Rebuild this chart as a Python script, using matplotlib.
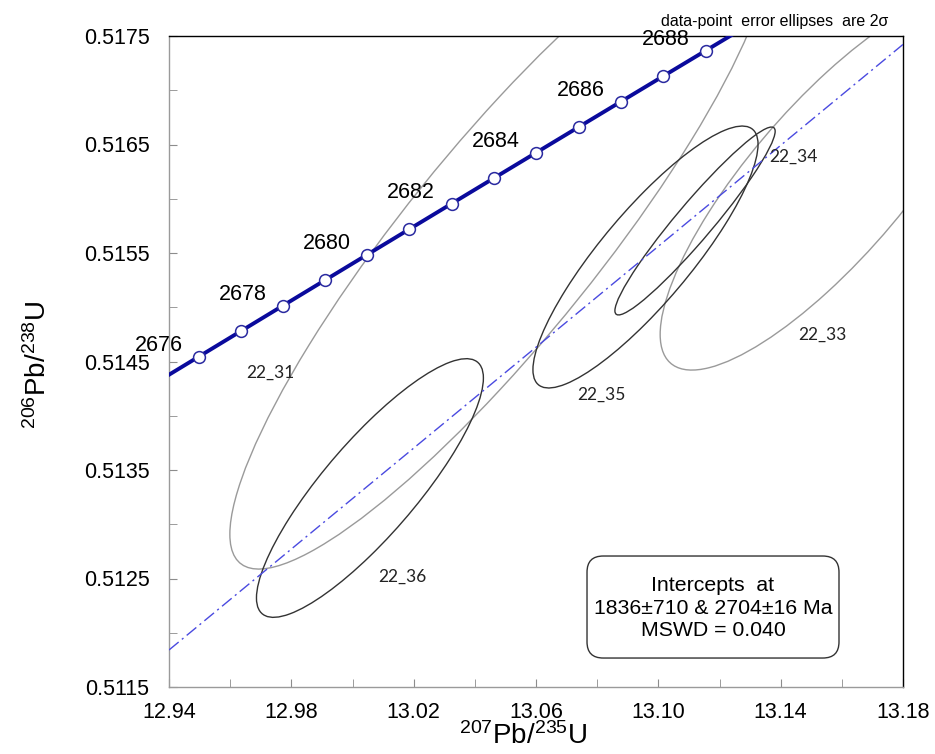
import numpy as np
import matplotlib
matplotlib.use('Agg')
import matplotlib.pyplot as plt
from matplotlib.patches import Ellipse, FancyBboxPatch

plt.rcParams['font.family'] = ['Liberation Sans', 'DejaVu Sans']
plt.rcParams['mathtext.default'] = 'regular'

# decay constants (1/yr)
L238 = 1.55125e-10
L235 = 9.8485e-10

# concordia age marks (Ma)
line_ages = [2675, 2676, 2677, 2678, 2679, 2680, 2681, 2682, 2683, 2684,
             2685, 2686, 2687, 2688, 2689]
mark_ages = [2676, 2677, 2678, 2679, 2680, 2681, 2682, 2683, 2684, 2685,
             2686, 2687, 2688]
label_ages = [2676, 2678, 2680, 2682, 2684, 2686, 2688]

# discordia intercepts (Ma)
intercepts = [1836, 2704]

# spot analyses: 207Pb/235U, 2s, 206Pb/238U, 2s, rho
spots = ['22_31', '22_33', '22_34', '22_35', '22_36']
pb207_u235 = [13.0482, 13.1552, 13.1120, 13.0958, 13.0057]
err_207 = [0.0883, 0.0546, 0.0262, 0.0368, 0.0371]
pb206_u238 = [0.515592, 0.516154, 0.515795, 0.515463, 0.513334]
err_206 = [0.003005, 0.001733, 0.000866, 0.001207, 0.001192]
rho = [0.893, 0.81, 0.955, 0.86, 0.85]
spot_color = ['#9a9a9a', '#9a9a9a', '#333333', '#333333', '#333333']
label_x = [12.973, 13.1535, 13.1441, 13.0813, 13.0162]
label_y = [0.514394, 0.514744, 0.516385, 0.514191, 0.512514]

xticks = [12.94, 12.98, 13.02, 13.06, 13.10, 13.14, 13.18]
xminor = [12.96, 13.00, 13.04, 13.08, 13.12, 13.16]
yticks = [0.5115, 0.5125, 0.5135, 0.5145, 0.5155, 0.5165, 0.5175]
yminor = [0.5120, 0.5130, 0.5140, 0.5150, 0.5160, 0.5170]


def concordia(age_ma):
    t = np.asarray(age_ma, dtype=float) * 1e6
    return np.exp(L235 * t) - 1, np.exp(L238 * t) - 1


fig = plt.figure(figsize=(9.35, 7.54), dpi=100)
ax = fig.add_axes([169 / 935, 67 / 754, 734 / 935, 651 / 754])

# error ellipses
for i in range(len(spots)):
    sx, sy, r = err_207[i], err_206[i], rho[i]
    cov = np.array([[sx * sx, r * sx * sy], [r * sx * sy, sy * sy]])
    vals, vecs = np.linalg.eigh(cov)
    order = vals.argsort()[::-1]
    vals, vecs = vals[order], vecs[:, order]
    ang = np.degrees(np.arctan2(vecs[1, 0], vecs[0, 0]))
    e = Ellipse((pb207_u235[i], pb206_u238[i]), 2 * np.sqrt(vals[0]),
                2 * np.sqrt(vals[1]), angle=ang, fill=False,
                edgecolor=spot_color[i], lw=1.0, zorder=2)
    ax.add_patch(e)
    ax.text(label_x[i], label_y[i], spots[i], family=['Lato', 'DejaVu Sans'],
            fontsize=12.5, ha='center', va='center', color='#222222', zorder=5)

# discordia through the two intercepts
ix, iy = concordia(intercepts)
ax.axline((ix[0], iy[0]), (ix[1], iy[1]), color='#4a4ae0', lw=1.0,
          linestyle=(0, (9, 3, 1.5, 3)), zorder=3)

# concordia curve
cx, cy = concordia(line_ages)
ax.plot(cx, cy, color='#0a0a9c', lw=2.8, zorder=4)
mx, my = concordia(mark_ages)
ax.plot(mx, my, 'o', ms=8.5, mfc='white', mec='#2a2aa0', mew=1.1, zorder=6)
lx, ly = concordia(label_ages)
for a, x, y in zip(label_ages, lx, ly):
    ax.annotate(str(a), (x, y), xytext=(-29, 8), textcoords='offset points',
                ha='center', va='center', fontsize=15.5, annotation_clip=False,
                zorder=7)

ax.set_xlim(12.94, 13.18)
ax.set_ylim(0.5115, 0.5175)
ax.set_xticks(xticks)
ax.set_xticks(xminor, minor=True)
ax.set_yticks(yticks)
ax.set_yticks(yminor, minor=True)
ax.set_xticklabels(['%.2f' % v for v in xticks])
ax.set_yticklabels(['%.4f' % v for v in yticks])
ax.tick_params(which='both', direction='in', length=6, color='#8c8c8c',
               labelsize=15.5, top=False, right=False)
ax.tick_params(axis='x', pad=11)
ax.tick_params(axis='y', pad=14)

for s in ['left', 'bottom']:
    ax.spines[s].set_color('#9a9a9a')
for s in ['top', 'right']:
    ax.spines[s].set_color('black')
for s in ax.spines.values():
    s.set_linewidth(1.0)

ax.set_xlabel('$^{207}$Pb/$^{235}$U', fontsize=20)
ax.xaxis.set_label_coords(0.482, -0.054)
ax.set_ylabel('$^{206}$Pb/$^{238}$U', fontsize=20)
ax.yaxis.set_label_coords(-0.16, 0.495)

ax.text(0.98, 1.01, 'data-point  error ellipses  are 2\u03c3', transform=ax.transAxes,
        ha='right', va='bottom', fontsize=11.5)

box = FancyBboxPatch((0.5695, 0.0445), 0.3433, 0.1567,
                     boxstyle='round,pad=0,rounding_size=0.022',
                     mutation_aspect=734 / 651, transform=ax.transAxes,
                     facecolor='white', edgecolor='#333333', lw=1.0, zorder=8)
ax.add_patch(box)
ax.text(0.741, 0.121, 'Intercepts  at\n1836\u00b1710 & 2704\u00b116 Ma\nMSWD = 0.040',
        transform=ax.transAxes, ha='center', va='center', fontsize=15.3,
        linespacing=1.25, zorder=9)

fig.savefig('out.png', dpi=100)
